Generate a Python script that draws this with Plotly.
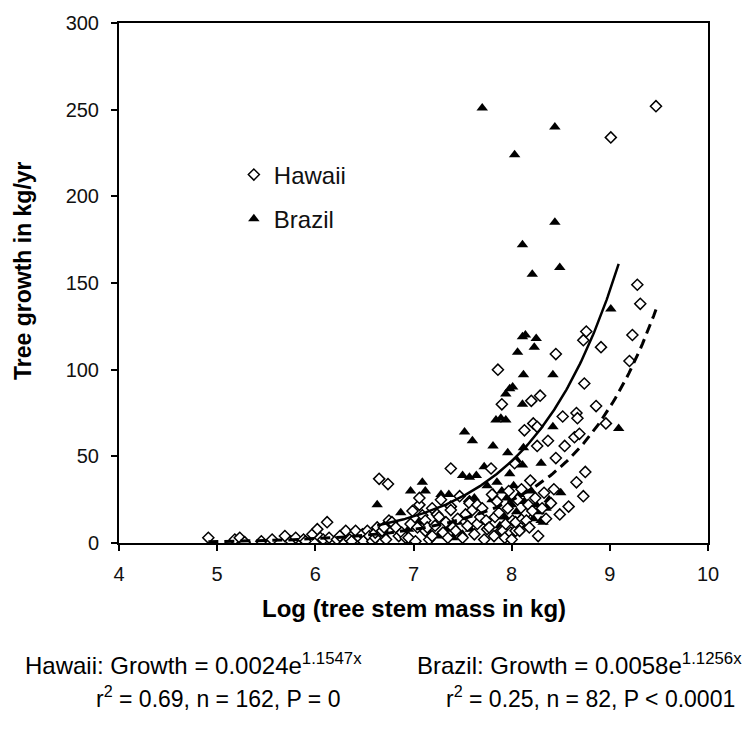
import numpy as np
import plotly.graph_objects as go

# Hawaii trees: log stem mass (kg) and growth (kg/yr)
hawaii_x = [4.91, 5.18, 5.23, 5.28, 5.45, 5.56, 5.69, 5.75, 5.80, 5.88, 5.90, 5.97, 6.02, 6.05, 6.08,
            6.12, 6.14, 6.22, 6.25, 6.31, 6.35, 6.37, 6.41, 6.45, 6.48, 6.49, 6.53, 6.55, 6.58, 6.61,
            6.61, 6.63, 6.65, 6.68, 6.70, 6.72, 6.74, 6.75, 6.78, 6.82, 6.85, 6.88, 6.92, 6.95, 6.97,
            6.99, 7.02, 7.04, 7.06, 7.06, 7.09, 7.12, 7.12, 7.14, 7.16, 7.19, 7.19, 7.22, 7.24, 7.26,
            7.28, 7.30, 7.33, 7.35, 7.38, 7.38, 7.38, 7.40, 7.43, 7.45, 7.47, 7.50, 7.53, 7.55, 7.57,
            7.57, 7.60, 7.62, 7.65, 7.65, 7.68, 7.70, 7.72, 7.74, 7.75, 7.77, 7.79, 7.80, 7.82, 7.83,
            7.85, 7.86, 7.87, 7.89, 7.90, 7.91, 7.93, 7.94, 7.96, 7.97, 7.99, 8.00, 8.01, 8.03, 8.04,
            8.04, 8.06, 8.08, 8.10, 8.11, 8.13, 8.15, 8.15, 8.17, 8.18, 8.19, 8.20, 8.21, 8.22, 8.24,
            8.26, 8.26, 8.27, 8.29, 8.31, 8.33, 8.35, 8.37, 8.40, 8.43, 8.45, 8.45, 8.49, 8.52, 8.54,
            8.58, 8.64, 8.66, 8.66, 8.67, 8.69, 8.73, 8.73, 8.74, 8.75, 8.76, 8.86, 8.91, 8.96, 9.01,
            9.20, 9.23, 9.28, 9.31, 9.47]
hawaii_y = [3, 2, 3, 0.5, 1, 2, 4, 1, 3, 2, 1, 5, 8, 3, 2,
            12, 3, 2, 4, 7, 2, 1, 7, 3, 5, 1, 7, 4, 1, 3,
            6, 9, 37, 7, 9, 2, 34, 13, 12, 9, 4, 6, 3, 3, 11,
            18.5, 1, 9, 22, 26, 16, 13, 7, 9, 2, 20, 4, 10, 16.5, 15,
            25, 6, 12, 3, 21, 19, 43, 9, 7, 14, 27, 3, 16.5, 10, 24,
            23, 19, 5, 22, 11, 15, 20, 2, 13, 8, 9, 43, 28, 4, 15,
            24, 100, 17.5, 7, 80, 7, 3, 11, 20, 30, 6, 2, 13, 46, 7,
            12, 25, 7, 31, 14, 65, 17, 13, 22, 9, 36, 82, 18.5, 69, 26,
            67, 56, 4, 85, 20, 29, 14, 59, 23, 31, 49, 109, 16.5, 73, 56,
            21, 61, 35, 75, 72, 63, 27, 117, 92, 41, 122, 79, 113, 69, 234,
            105, 120, 149, 138, 252]

# Brazil trees
brazil_x = [7.70, 8.44, 8.03, 8.44, 8.11, 8.49, 8.21, 9.01, 8.11, 8.14, 8.25, 8.23, 8.06, 8.12,
            8.42, 7.98, 8.01, 7.94, 8.11, 7.84, 7.89, 7.94, 8.42, 9.09, 7.52, 7.60, 7.81, 8.12,
            8.30, 8.11, 7.50, 7.57, 7.64, 7.09, 6.97, 7.12, 7.28, 7.36, 7.81, 8.50, 6.63, 6.87,
            8.30, 8.32, 7.75, 7.80, 7.85, 7.90, 7.95, 7.98, 8.00, 8.02, 8.05, 8.08, 8.10, 8.13,
            8.15, 8.18, 8.20, 8.22, 8.25, 8.28, 8.35, 8.38, 7.93, 7.88, 7.70, 7.65, 7.58, 7.50,
            7.45, 7.40, 7.33, 7.25, 7.20, 7.15, 7.05, 6.95, 6.80, 6.70, 7.62, 7.72, 8.05, 7.96]
brazil_y = [251, 240, 224, 185, 172, 159, 155, 135, 119, 120, 118, 113, 110, 97,
            97, 89, 90, 86, 80, 71, 72, 71, 67, 66, 64, 59, 56, 55,
            46, 45, 39, 38, 39, 35, 30, 30, 28, 28, 29, 29, 22, 17.5,
            13, 12, 33, 25, 35, 30, 26, 40, 22, 33, 18, 28, 15, 24,
            10, 20, 30, 14, 22, 18, 20, 25, 15, 10, 12, 20, 8, 5,
            12, 3, 8, 4, 10, 6, 12, 8, 10, 5, 26, 44, 48, 52]

# Exponential fits: growth = a * exp(b * x)
hawaii_fit = (0.0024, 1.1547)
brazil_fit = (0.0058, 1.1256)

x_ticks = [4, 5, 6, 7, 8, 9, 10]
y_ticks = [0, 50, 100, 150, 200, 250, 300]

FONT = "Liberation Sans, Arial, sans-serif"

fig = go.Figure()

fig.add_trace(go.Scatter(
    x=brazil_x, y=brazil_y, mode="markers", name="Brazil", legendgroup="b", legendrank=2,
    marker=dict(symbol="triangle-up", size=10, color="black", line=dict(width=0)),
))
fig.add_trace(go.Scatter(
    x=hawaii_x, y=hawaii_y, mode="markers", name="Hawaii", legendgroup="h", legendrank=1,
    marker=dict(symbol="diamond", size=8.5, color="white", line=dict(width=1.5, color="black")),
))

hx = np.linspace(min(hawaii_x), max(hawaii_x), 200)
fig.add_trace(go.Scatter(
    x=hx, y=hawaii_fit[0] * np.exp(hawaii_fit[1] * hx), mode="lines", showlegend=False,
    line=dict(color="black", width=3, dash="10px,6px"),
))
bx = np.linspace(min(brazil_x), max(brazil_x), 200)
fig.add_trace(go.Scatter(
    x=bx, y=brazil_fit[0] * np.exp(brazil_fit[1] * bx), mode="lines", showlegend=False,
    line=dict(color="black", width=2.5),
))

axis_common = dict(
    showgrid=False, zeroline=False, showline=True, linecolor="black", linewidth=2,
    mirror=True, ticks="outside", ticklen=6, tickwidth=1.5, tickcolor="black",
    tickfont=dict(family=FONT, size=20, color="#111"),
)
fig.update_xaxes(range=[4, 10], tickvals=x_ticks, ticklabelstandoff=6, **axis_common)
fig.update_yaxes(range=[0, 300], tickvals=y_ticks, ticklabelstandoff=8, **axis_common)

def note(text, x, y, size, angle=0):
    return dict(text=text, x=x, y=y, xref="paper", yref="paper", xanchor="center",
                yanchor="middle", textangle=angle, showarrow=False,
                font=dict(family=FONT, size=size, color="black"))

annotations = [
    note("<b>Tree growth in kg/yr</b>", -0.163, 0.525, 23, -90),
    note("<b>Log (tree stem mass in kg)</b>", 0.5, -0.126, 24),
    note("Hawaii: Growth = 0.0024e<sup>1.1547x</sup>", 0.127, -0.233, 24),
    note("r<sup>2</sup> = 0.69, n = 162, P = 0", 0.168, -0.296, 23),
    note("Brazil: Growth = 0.0058e<sup>1.1256x</sup>", 0.782, -0.233, 24),
    note("r<sup>2</sup> = 0.25, n = 82, P < 0.0001", 0.8, -0.296, 23),
]

fig.update_layout(
    width=755, height=736,
    margin=dict(l=119, r=47, t=20, b=193),
    paper_bgcolor="white", plot_bgcolor="white",
    showlegend=True,
    legend=dict(x=0.195, y=0.751, xanchor="left", yanchor="top", traceorder="grouped",
                tracegroupgap=10, bgcolor="rgba(0,0,0,0)",
                font=dict(family=FONT, size=24, color="#111")),
    annotations=annotations,
)

fig.write_html("out.html")
